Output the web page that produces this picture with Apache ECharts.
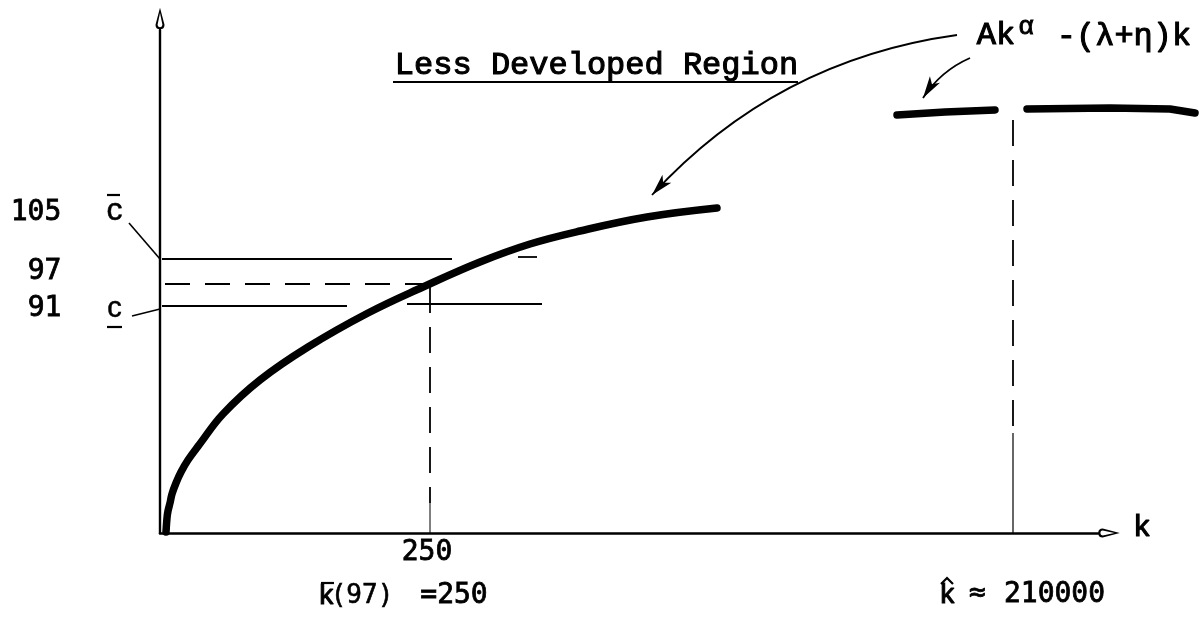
<!DOCTYPE html>
<html><head><meta charset="utf-8">
<script src="https://cdn.jsdelivr.net/npm/echarts@6/dist/echarts.min.js"></script>
<style>html,body{margin:0;padding:0;background:#fff}#c{width:1199px;height:622px}</style>
</head><body><div id="c"></div>
<script>
// ---- values (schematic diagram units: k to the right, y upward) ----
const curveK = [6,7,8,10,12,16,21,28,39,63,100,148,208,263,320,370,420,487,557];
const curveY = [1,15,22,30,39,50,61,73,88,119,153,186,220,246,271,289,302,316,325];
const farLeftK  = [737,785,835];
const farLeftY  = [418,421,423];
const farRightK = [867,950,1010,1035];
const farRightY = [424,425,424,420];
const levelCbar = 274;   // c-bar (105)
const level97   = 249;   // 97
const level91   = 227;   // c-underline (91)
const kBar      = 270;   // k-bar(97) = 250
const kHat      = 853;   // k-hat ~ 210000
const yTickLabels = ['105','97','91'];
const kTickLabel  = '250';
const kHatValue   = '210000';
const titleText   = 'Less Developed Region';
const formulaA    = 'Ak';
const formulaExp  = 'α';
const formulaB    = '-(λ+η)k';
const axisName    = 'k';

const MONO = 'Liberation Mono', SMONO = 'DejaVu Sans Mono', SANS = 'Liberation Sans';
const arrowPath = 'path://M5,0 L10,19 Q10,24 5,24 Q0,24 0,19 Z M5,6 L2.3,19 Q2.3,21.6 5,21.6 Q7.7,21.6 7.7,19 Z';

function zip(a, b) { return a.map((v, i) => [v, b[i]]); }
function poly(points, style) {
  return { type: 'lines', coordinateSystem: 'cartesian2d', polyline: true, clip: false, silent: true, z: 3,
           symbol: 'none',
           lineStyle: Object.assign({ color: '#000', width: 1.8, opacity: 1, cap: 'butt' }, style),
           data: [{ coords: points }] };
}
function lbl(text, pos, font, size, border) {
  return { value: pos, label: { show: true, position: 'inside', formatter: text, fontFamily: font,
           fontSize: size, color: '#000', opacity: 1, fontWeight: 'normal',
           textBorderColor: '#000', textBorderWidth: border } };
}

const series = [];
// main curve
series.push({ type: 'line', data: zip(curveK, curveY), symbol: 'none', showSymbol: false, smooth: 0.4,
              silent: true, z: 3, lineStyle: { color: '#000', width: 7.5, cap: 'round', join: 'round' } });
// far-right pieces of the curve
series.push(poly(zip(farLeftK, farLeftY), { width: 7.5, cap: 'round', join: 'round' }));
series.push(poly(zip(farRightK, farRightY), { width: 7.5, cap: 'round', join: 'round' }));
// horizontal guides
series.push(poly([[2, levelCbar], [292, levelCbar]], {}));
series.push(poly([[358, levelCbar + 2], [377, levelCbar + 2]], {}));
series.push(poly([[5, level97], [kBar - 3, level97]], { type: [25, 15] }));
series.push(poly([[2, level91], [187, level91]], {}));
series.push(poly([[247, level91 + 2], [382, level91 + 2]], {}));
// vertical guides
series.push(poly([[kBar, 246], [kBar, 30]], { type: [26, 14] }));
series.push(poly([[kBar, 30], [kBar, 0]], { width: 1 }));
series.push(poly([[kHat, 413], [kHat, 100]], { type: [26, 14] }));
series.push(poly([[kHat, 100], [kHat, 0]], { width: 1.2 }));
// leader lines to the axis
series.push(poly([[-31, 310], [0, levelCbar]], { width: 1.6 }));
series.push(poly([[-28, 217], [0, level91 - 3]], { width: 1.6 }));
// overbar / underline / hats
series.push(poly([[-53, 338], [-40, 338]], { width: 2.2 }));
series.push(poly([[-53, 206], [-38, 206]], { width: 2.2 }));
series.push(poly([[161, -50], [174, -50]], { width: 2.2 }));
series.push(poly([[781, -51], [787, -45], [793, -51]], { width: 2.2 }));
// title underline
series.push(poly([[233, 451], [638, 451]], { width: 2 }));
// curved pointer arrows
series.push({
  type: 'lines', coordinateSystem: 'cartesian2d', silent: true, clip: false, z: 4,
  symbol: ['none', 'arrow'], symbolSize: [0, [9, 22]],
  lineStyle: { color: '#000', width: 1.8, opacity: 1 },
  itemStyle: { color: '#000' },
  data: [
    { coords: [[797, 498], [492, 338]], lineStyle: { curveness: -0.18 } },
    { coords: [[810, 475], [763, 435]], lineStyle: { curveness: -0.15 } }
  ]
});
// text labels
series.push({
  type: 'scatter', symbolSize: 1, clip: false, silent: true, z: 5,
  itemStyle: { color: 'rgba(0,0,0,0)' },
  data: [
    lbl(yTickLabels[0], [-124, 320], SMONO, 28, 0.8),
    lbl(yTickLabels[1], [-115.5, 261], SMONO, 28, 0.8),
    lbl(yTickLabels[2], [-115.5, 224.5], SMONO, 28, 0.8),
    lbl('c', [-45.5, 322], SANS, 32, 0.5),
    lbl('c', [-45.5, 224], SANS, 29, 0.5),
    lbl(kTickLabel, [kBar - 3, -20], SMONO, 28, 0.8),
    lbl('k', [166.5, -64], MONO, 28, 1.1),
    lbl('(97)', [202, -63], SMONO, 26, 0.6),
    lbl('=' + kTickLabel, [294, -63], SMONO, 28, 0.8),
    lbl('k', [787.5, -63], MONO, 28, 1.1),
    lbl('≈', [817.5, -61], SMONO, 28, 0.8),
    lbl(kHatValue, [894.5, -62], SMONO, 28, 0.8),
    lbl(axisName, [982, 5], MONO, 30, 1.1),
    lbl(titleText, [436.5, 467], MONO, 32, 1.1),
    lbl(formulaA, [836, 497], MONO, 32, 1.1),
    lbl(formulaExp, [866, 506], MONO, 26, 0.9),
    lbl(formulaB, [964, 496], MONO, 32, 1.1)
  ]
});

const chart = echarts.init(document.getElementById('c'), null, { renderer: 'canvas' });
chart.setOption({
  animation: false,
  backgroundColor: '#fff',
  grid: { left: 160, top: 30, width: 938, height: 503 },
  xAxis: {
    type: 'value', min: 0, max: 938,
    axisLine: { show: true, onZero: false, symbol: ['none', arrowPath], symbolSize: [9, 22], symbolOffset: [0, 11],
                lineStyle: { color: '#000', width: 2.6 } },
    axisTick: { show: false }, axisLabel: { show: false }, splitLine: { show: false }
  },
  yAxis: {
    type: 'value', min: 0, max: 503,
    axisLine: { show: true, onZero: false, symbol: ['none', arrowPath], symbolSize: [9, 23], symbolOffset: [0, 11.5],
                lineStyle: { color: '#000', width: 2.4 } },
    axisTick: { show: false }, axisLabel: { show: false }, splitLine: { show: false }
  },
  series: series
});
</script></body></html>
